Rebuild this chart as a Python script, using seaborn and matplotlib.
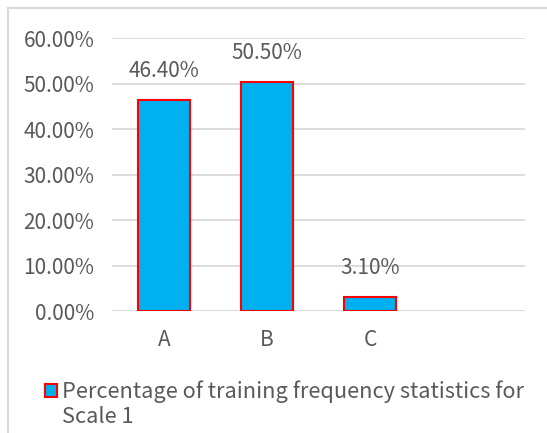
import matplotlib
matplotlib.use("Agg")
import matplotlib.pyplot as plt
from matplotlib.lines import Line2D
from matplotlib.patches import Patch, Rectangle
from matplotlib.legend_handler import HandlerPatch
import seaborn as sns
import pandas as pd

categories = ["A", "B", "C"]
percentages = [46.40, 50.50, 3.10]
y_ticks = [0, 10, 20, 30, 40, 50, 60]
series_name = "Percentage of training frequency statistics for\nScale 1"

BAR_FILL = "#00B0F0"
BAR_EDGE = "#FF0000"
TEXT = "#595959"
GRID = "#D9D9D9"
FS = 15

sns.set_theme(style="white")
plt.rcParams["font.family"] = ["Noto Sans CJK SC", "DejaVu Sans"]

df = pd.DataFrame({"category": categories, "pct": percentages})

fig = plt.figure(figsize=(5.47, 4.33), dpi=100)
ax = fig.add_axes([112.4 / 547, 1 - 311.2 / 433, (525 - 112.4) / 547, (311.2 - 38.4) / 433])

sns.barplot(data=df, x="category", y="pct", ax=ax, color=BAR_FILL,
            width=0.5, edgecolor=BAR_EDGE, linewidth=1.5, saturation=1)
for p in ax.patches:
    p.set_facecolor(BAR_FILL)

ax.set_xlim(-0.5, 3.5)
ax.set_ylim(0, 60)
ax.set_yticks(y_ticks)
ax.set_yticklabels([f"{v:.2f}%" for v in y_ticks])
ax.set_xlabel("")
ax.set_ylabel("")
ax.yaxis.grid(True, color=GRID, linewidth=1.3)
ax.set_axisbelow(True)
for s in ax.spines.values():
    s.set_visible(False)
ax.axhline(0, color=GRID, linewidth=1.3, zorder=0.5)
ax.tick_params(axis="both", length=0, labelsize=FS, labelcolor=TEXT)
ax.tick_params(axis="y", pad=13)
ax.tick_params(axis="x", pad=13)

for i, v in enumerate(percentages):
    ax.annotate(f"{v:.2f}%", (i, v), xytext=(0, 13), textcoords="offset points",
                ha="center", va="bottom", fontsize=FS, color=TEXT)


class TopAlignedSquare(HandlerPatch):
    """Legend key placed level with the first line of a two-line label."""
    def __init__(self, shift, **kw):
        super().__init__(**kw)
        self.shift = shift

    def create_artists(self, legend, orig_handle, xdescent, ydescent,
                       width, height, fontsize, trans):
        r = Rectangle((-xdescent, -ydescent + self.shift), width, height,
                      facecolor=orig_handle.get_facecolor(),
                      edgecolor=orig_handle.get_edgecolor(),
                      linewidth=orig_handle.get_linewidth())
        r.set_transform(trans)
        return [r]


LEG_FS = 15.7
handle = Patch(facecolor=BAR_FILL, edgecolor=BAR_EDGE, linewidth=1.5)
leg = fig.legend([handle], [series_name], loc="upper left",
                 bbox_to_anchor=(44.5 / 547, 1 - 380 / 433), frameon=False,
                 fontsize=LEG_FS, labelcolor=TEXT, handlelength=0.58, handleheight=0.55,
                 handletextpad=0.22, borderpad=0, borderaxespad=0,
                 handler_map={Patch: TopAlignedSquare(shift=10.5)})
for t in leg.get_texts():
    t.set_linespacing(1.2)

# chart area border (left and top edges)
fig.add_artist(Line2D([7.7 / 547, 7.7 / 547], [0, 1 - 7.7 / 433],
                      transform=fig.transFigure, color=GRID, linewidth=1.5))
fig.add_artist(Line2D([7.7 / 547, 1], [1 - 7.7 / 433, 1 - 7.7 / 433],
                      transform=fig.transFigure, color=GRID, linewidth=1.5))

fig.savefig("out.png", dpi=100, facecolor="white")
